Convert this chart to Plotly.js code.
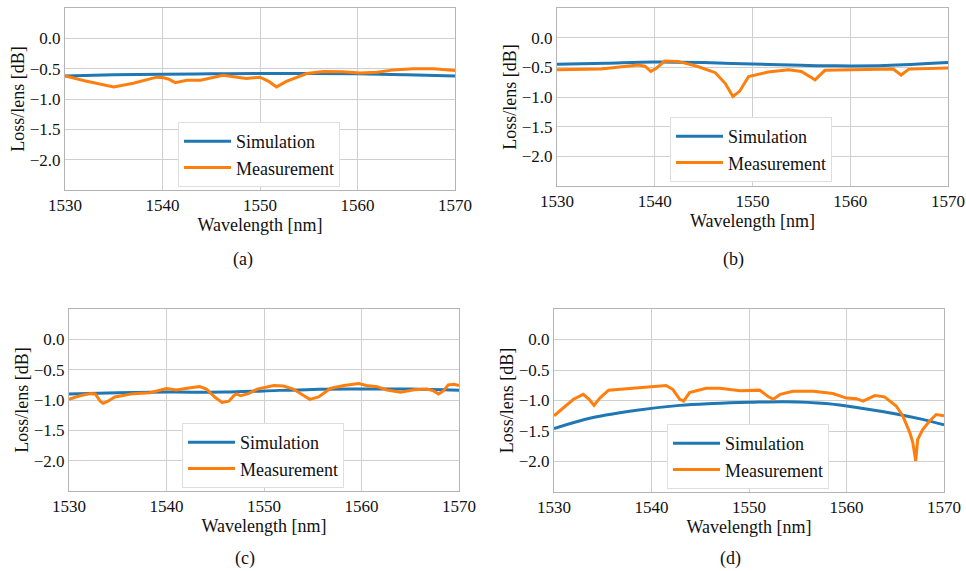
<!DOCTYPE html>
<html>
<head>
<meta charset="utf-8">
<script src="https://cdn.plot.ly/plotly-3.0.1.min.js"></script>
<style>html,body{margin:0;padding:0;background:#fff;}#chart{width:966px;height:571px;}</style>
</head>
<body>
<div id="chart"></div>
<script>
// ---------- data ----------
const seriesNames = ["Simulation", "Measurement"];
const panelLabels = ["(a)", "(b)", "(c)", "(d)"];
const xTicks = [1530, 1540, 1550, 1560, 1570];
const yTickVals = [0, -0.5, -1.0, -1.5, -2.0];
const yTickText = ["0.0", "\u22120.5", "\u22121.0", "\u22121.5", "\u22122.0"];
const xTitle = "Wavelength [nm]";
const yTitle = "Loss/lens [dB]";

// (a)
const simA_x = [1530, 1535, 1540, 1545, 1550, 1555, 1560, 1565, 1570];
const simA_y = [-0.62, -0.60, -0.59, -0.585, -0.58, -0.58, -0.585, -0.60, -0.62];
const measA_x = [1530, 1532, 1535, 1537, 1539.4, 1540.1, 1540.6, 1541.3, 1542.5, 1543.9, 1546.2, 1548.6, 1550.0, 1550.9, 1551.7, 1552.7, 1554.8, 1556.5, 1558.5, 1560.3, 1562.0, 1563.7, 1565.7, 1567.8, 1570];
const measA_y = [-0.62, -0.70, -0.80, -0.74, -0.64, -0.65, -0.67, -0.73, -0.69, -0.69, -0.61, -0.66, -0.64, -0.71, -0.80, -0.71, -0.58, -0.545, -0.55, -0.57, -0.56, -0.52, -0.50, -0.50, -0.53];

// (b)
const simB_x = [1530, 1535, 1540, 1545, 1550, 1555, 1558.5, 1563.6, 1570];
const simB_y = [-0.45, -0.43, -0.41, -0.42, -0.445, -0.465, -0.475, -0.47, -0.42];
const measB_x = [1530, 1534.5, 1538.3, 1539.0, 1539.6, 1540.2, 1541.0, 1542.4, 1544.4, 1546.2, 1547.2, 1548.0, 1548.7, 1549.6, 1551.6, 1553.7, 1555.0, 1556.4, 1557.4, 1560.2, 1564.4, 1565.2, 1566.0, 1570];
const measB_y = [-0.54, -0.53, -0.46, -0.48, -0.57, -0.51, -0.395, -0.40, -0.486, -0.59, -0.77, -0.99, -0.90, -0.655, -0.58, -0.54, -0.57, -0.71, -0.55, -0.54, -0.53, -0.63, -0.53, -0.51];

// (c)
const simC_x = [1530, 1535, 1540, 1546, 1550, 1555, 1560, 1565, 1570];
const simC_y = [-0.90, -0.88, -0.87, -0.87, -0.85, -0.825, -0.82, -0.82, -0.84];
const measC_x = [1530, 1531.1, 1532.2, 1532.7, 1533.2, 1533.5, 1534.0, 1534.7, 1536.6, 1538.3, 1540.0, 1541.0, 1542.8, 1543.4, 1544.1, 1545.0, 1545.7, 1546.4, 1546.9, 1547.2, 1547.6, 1548.4, 1549.3, 1551.0, 1552.0, 1553.0, 1554.1, 1554.7, 1555.6, 1556.8, 1558.2, 1559.7, 1560.5, 1561.6, 1562.6, 1564.0, 1565.4, 1566.7, 1567.4, 1567.9, 1568.4, 1568.9, 1569.5, 1570];
const measC_y = [-0.99, -0.93, -0.895, -0.90, -1.02, -1.055, -1.02, -0.95, -0.895, -0.88, -0.81, -0.835, -0.79, -0.78, -0.82, -0.96, -1.04, -1.02, -0.93, -0.90, -0.93, -0.895, -0.82, -0.76, -0.77, -0.82, -0.93, -0.99, -0.95, -0.81, -0.76, -0.73, -0.76, -0.78, -0.835, -0.87, -0.83, -0.82, -0.85, -0.90, -0.85, -0.75, -0.74, -0.76];

// (d)
const simD_x = [1530, 1534.0, 1538.5, 1542.9, 1546.3, 1550.1, 1553.8, 1557.9, 1561.7, 1565.1, 1567.8, 1570];
const simD_y = [-1.46, -1.28, -1.16, -1.08, -1.05, -1.03, -1.02, -1.05, -1.13, -1.22, -1.31, -1.40];
const measD_x = [1530, 1531.0, 1532.0, 1533.0, 1533.6, 1534.1, 1534.7, 1535.6, 1537.1, 1538.8, 1540.5, 1541.5, 1542.2, 1542.9, 1543.3, 1543.9, 1545.6, 1547.0, 1549.1, 1551.1, 1552.0, 1552.5, 1553.2, 1554.5, 1556.6, 1558.6, 1560.0, 1561.0, 1561.7, 1562.9, 1563.9, 1565.1, 1565.8, 1566.5, 1566.8, 1567.1, 1567.3, 1567.8, 1568.5, 1569.2, 1570];
const measD_y = [-1.25, -1.12, -0.98, -0.90, -0.98, -1.08, -0.96, -0.83, -0.81, -0.78, -0.76, -0.755, -0.82, -0.98, -1.01, -0.87, -0.80, -0.80, -0.84, -0.83, -0.94, -0.98, -0.90, -0.85, -0.85, -0.885, -0.96, -0.97, -1.01, -0.92, -0.94, -1.09, -1.26, -1.53, -1.69, -1.99, -1.64, -1.48, -1.34, -1.23, -1.25];

// ---------- build ----------
const W = 966, H = 571;
const BLUE = "#1f77b4", ORANGE = "#ff7f0e";
const FONT = "\"Liberation Serif\", \"Times New Roman\", Times, serif";

// panel pixel boxes [left, right, top, bottom]
const boxes = [[65, 455, 8, 190], [557, 948, 8, 186], [69, 459, 309, 491], [554, 944, 309, 492]];
const legendPos = [[178, 122], [670, 117], [182, 423], [667, 424]];
const captionPos = [[243, 260], [733, 260], [245, 558], [730, 558]];

const sims = [[simA_x, simA_y], [simB_x, simB_y], [simC_x, simC_y], [simD_x, simD_y]];
const meas = [[measA_x, measA_y], [measB_x, measB_y], [measC_x, measC_y], [measD_x, measD_y]];

const data = [];
const layout = {
  width: W, height: H,
  margin: {l: 0, r: 0, t: 0, b: 0},
  paper_bgcolor: "#fff", plot_bgcolor: "#fff",
  font: {family: FONT, size: 17, color: "#111"},
  showlegend: true,
  annotations: []
};

for (let i = 0; i < 4; i++) {
  const n = i === 0 ? "" : String(i + 1);
  const lg = "legend" + n;
  data.push({x: sims[i][0], y: sims[i][1], xaxis: "x" + n, yaxis: "y" + n, name: seriesNames[0],
    mode: "lines", line: {color: BLUE, width: 3, shape: "spline"}, legend: lg});
  data.push({x: meas[i][0], y: meas[i][1], xaxis: "x" + n, yaxis: "y" + n, name: seriesNames[1],
    mode: "lines", line: {color: ORANGE, width: 3}, legend: lg});
  const b = boxes[i];
  layout["xaxis" + n] = {
    domain: [b[0] / W, b[1] / W], anchor: "y" + n, range: [1530, 1570],
    tickvals: xTicks, ticktext: xTicks.map(String), ticks: "",
    showgrid: true, gridcolor: "#cfcfcf", gridwidth: 1,
    showline: true, linecolor: "#b4b4b4", linewidth: 1, mirror: true, zeroline: false,
    tickfont: {size: 17, family: FONT}, automargin: false,
    title: {text: xTitle, font: {size: 18, family: FONT}, standoff: 1}
  };
  layout["yaxis" + n] = {
    domain: [1 - b[3] / H, 1 - b[2] / H], anchor: "x" + n, range: [-2.5, 0.5],
    tickvals: yTickVals, ticktext: yTickText, ticks: "",
    showgrid: true, gridcolor: "#cfcfcf", gridwidth: 1,
    showline: true, linecolor: "#b4b4b4", linewidth: 1, mirror: true, zeroline: false,
    tickfont: {size: 17, family: FONT}, automargin: false,
    title: {text: yTitle, font: {size: 18, family: FONT}, standoff: 0}
  };
  const lp = legendPos[i];
  layout[lg] = {
    x: lp[0] / W, y: 1 - lp[1] / H, xanchor: "left", yanchor: "top",
    xref: "paper", yref: "paper",
    bgcolor: "#ffffff", bordercolor: "#dedede", borderwidth: 1,
    font: {size: 18, family: FONT, color: "#111"}, itemwidth: 47
  };
  const cp = captionPos[i];
  layout.annotations.push({text: panelLabels[i], x: cp[0] / W, y: 1 - cp[1] / H, xref: "paper", yref: "paper",
    xanchor: "center", yanchor: "middle", showarrow: false, font: {size: 18, family: FONT, color: "#111"}});
}

Plotly.newPlot("chart", data, layout, {displayModeBar: false, staticPlot: true});
</script>
</body>
</html>
